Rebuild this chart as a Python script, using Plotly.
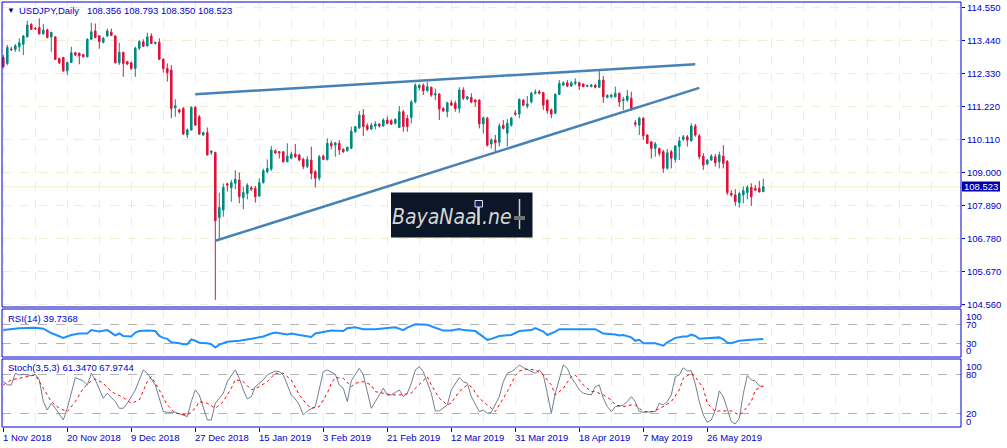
import plotly.graph_objects as go

W, H = 1007, 448

# ---------------- data ----------------
open_ = [112.86,112.66,113.14,113.13,113.22,113.30,113.55,113.97,113.84,113.86,
113.65,113.78,113.55,113.55,112.82,112.86,112.41,112.69,113.02,113.00,
112.96,112.88,113.47,113.75,113.59,113.37,113.58,113.71,113.58,112.68,
113.03,112.72,112.68,112.49,113.17,113.39,113.25,113.58,113.33,113.37,
112.80,112.49,112.44,111.17,111.10,111.15,110.26,110.43,111.19,110.87,
110.26,110.34,109.67,109.67,107.49,107.74,108.62,108.49,108.64,108.75,
108.16,108.30,108.49,108.47,108.21,108.66,109.03,109.12,109.73,109.70,
109.70,109.36,109.48,109.62,109.59,109.44,109.20,109.42,109.03,108.81,
109.55,109.44,109.98,109.92,109.98,109.78,109.73,109.81,110.37,110.50,
110.93,110.57,110.46,110.56,110.62,110.56,110.76,110.74,110.65,110.51,
111.04,110.81,110.85,111.37,111.84,111.93,111.74,111.86,111.60,111.63,
111.15,111.04,111.34,111.32,111.15,111.77,111.47,111.52,111.43,111.43,
110.63,110.82,109.96,110.09,110.01,110.59,110.32,110.59,111.00,110.96,
111.43,111.23,111.37,111.66,111.71,111.68,111.43,111.10,110.99,111.62,
111.93,112.01,111.90,111.99,112.01,111.97,111.89,111.88,111.93,111.86,
112.10,111.52,111.54,111.54,111.66,111.41,111.43,111.49,110.67,110.59,
110.82,110.26,110.03,109.81,109.81,109.70,109.14,109.70,109.44,109.87,
110.11,110.20,110.07,110.56,110.23,109.55,109.29,109.42,109.53,109.36,
109.55,109.37,108.30,108.25,107.99,108.25,108.33,108.50,108.47,108.47,
108.356]

high = [112.94,113.28,113.22,113.31,113.50,113.61,114.09,114.01,113.89,114.17,
113.98,113.83,113.72,113.58,112.86,112.88,112.72,113.22,113.05,113.03,
112.97,113.50,114.02,114.00,113.61,113.55,113.83,113.83,113.61,113.35,
113.05,112.74,112.72,113.22,113.44,113.47,113.69,113.67,113.39,113.50,
112.83,112.66,112.60,111.46,111.15,111.19,110.48,111.21,111.23,110.93,
110.37,110.51,109.74,109.70,108.32,108.63,108.66,108.75,109.08,109.00,
108.53,108.64,108.55,108.55,108.81,109.13,109.44,109.89,109.77,109.72,
109.72,109.98,109.70,109.96,109.62,109.50,109.55,109.87,109.08,109.59,
109.60,110.15,110.07,110.03,110.09,109.81,109.87,110.54,110.56,111.06,
111.13,110.65,110.67,110.72,110.66,110.82,110.88,110.79,110.82,111.23,
111.10,110.93,111.43,111.99,111.97,111.99,112.05,111.88,111.82,111.66,
111.19,111.37,111.43,111.41,111.86,111.86,111.57,111.66,111.47,111.46,
110.87,110.87,110.15,110.26,110.65,110.76,110.79,110.87,111.10,111.49,
111.46,111.57,111.71,111.79,111.77,111.71,111.45,111.15,111.66,112.10,
112.06,112.10,112.06,112.16,112.05,111.99,111.95,111.97,111.97,112.44,
112.24,111.62,111.63,111.88,111.68,111.54,111.77,111.71,110.76,110.87,
110.85,110.28,110.06,110.03,109.83,109.76,109.79,109.76,109.92,110.20,
110.26,110.26,110.65,110.63,110.29,109.65,109.45,109.62,109.62,109.70,
109.92,109.42,108.41,108.44,108.36,108.53,108.58,108.64,108.58,108.72,
108.793]

low = [112.49,112.60,113.08,113.05,113.05,112.94,113.53,113.78,113.78,113.63,
113.63,113.50,113.05,112.77,112.64,112.38,112.27,112.67,112.91,112.63,
112.87,112.86,113.44,113.50,113.15,113.33,113.55,113.58,112.66,112.61,
112.21,112.60,112.44,112.21,113.11,113.22,113.22,113.31,113.30,112.77,
112.35,112.05,110.82,110.87,110.98,110.26,110.15,110.40,110.56,110.26,
110.22,109.57,109.59,104.73,106.74,107.52,108.36,108.02,108.44,107.97,
107.77,108.10,108.38,107.99,108.19,108.63,108.97,109.05,109.62,109.47,
109.33,109.35,109.44,109.49,109.38,109.12,109.15,108.77,108.50,108.73,
109.41,109.40,109.78,109.53,109.59,109.66,109.70,109.79,110.33,110.46,
110.23,110.40,110.42,110.45,110.51,110.54,110.61,110.59,110.61,110.49,
110.37,110.37,110.65,111.32,111.75,111.60,111.72,111.54,111.43,110.76,
111.03,110.85,111.23,111.04,111.00,111.43,111.43,111.32,111.21,110.48,
110.31,109.87,109.81,109.70,109.87,110.45,109.87,110.54,110.90,110.82,
111.23,111.15,111.32,111.62,111.62,111.10,110.98,110.82,110.96,111.60,
111.91,111.86,111.88,111.93,111.77,111.86,111.86,111.86,111.82,111.84,
111.34,111.49,111.51,111.52,111.21,111.10,111.37,111.07,110.54,110.26,
110.09,109.96,109.47,109.53,109.55,108.99,109.10,109.14,109.33,109.42,
110.06,109.87,110.03,110.20,109.44,109.09,109.25,109.39,109.20,109.14,
109.14,108.25,108.19,107.88,107.83,107.97,108.10,107.88,108.38,108.33,
108.350]

close = [112.55,113.20,113.12,113.25,113.35,113.58,113.95,113.80,113.82,113.65,
113.78,113.53,113.70,112.80,112.68,112.41,112.69,113.02,112.94,112.91,
112.88,113.47,113.72,113.53,113.39,113.50,113.75,113.60,112.68,113.03,
112.66,112.64,112.49,113.17,113.39,113.24,113.55,113.33,113.37,112.80,
112.49,112.35,111.15,111.24,111.03,110.29,110.43,111.19,110.59,110.29,
110.34,109.59,109.72,107.38,107.83,108.50,108.58,108.66,108.77,108.19,
108.33,108.58,108.44,108.19,108.66,109.06,109.14,109.76,109.66,109.66,
109.36,109.55,109.62,109.53,109.42,109.20,109.44,108.97,108.81,109.53,
109.44,109.98,109.90,110.00,109.76,109.70,109.85,110.39,110.54,110.93,
110.54,110.45,110.59,110.63,110.56,110.76,110.65,110.63,110.78,111.04,
110.54,110.54,111.37,111.93,111.93,111.74,111.88,111.60,111.64,111.13,
111.07,111.34,111.26,111.15,111.77,111.49,111.54,111.37,111.37,110.63,
110.84,109.92,110.09,110.00,110.56,110.48,110.65,110.82,110.96,111.45,
111.26,111.30,111.66,111.70,111.66,111.26,111.07,110.96,111.62,111.99,
112.01,111.90,112.01,112.04,111.90,111.88,111.92,111.93,111.86,112.10,
111.54,111.59,111.60,111.66,111.37,111.45,111.57,111.12,110.62,110.82,
110.23,109.98,109.81,109.96,109.64,109.14,109.66,109.48,109.89,110.06,
110.20,110.09,110.56,110.26,109.53,109.25,109.42,109.55,109.33,109.59,
109.31,108.33,108.25,108.02,108.30,108.39,108.50,108.19,108.41,108.35,
108.523]

bar_index = list(range(len(close)))

# trend lines (bar index, price)
upper_trend_x = [48, 173]
upper_trend_y = [111.63, 112.63]
lower_trend_x = [53, 174]
lower_trend_y = [106.71, 111.84]

# RSI(14) line (bar index, value)
rsi_idx = [0,4,8,10,12,15,17,19,21,22,24,26,28,29,30,32,33,34,36,38,39,40,41,42,44,45,46,47,48,49,
           51,52,53,54,56,59,62,65,67,68,71,72,74,77,78,82,85,86,88,90,93,96,98,100,101,103,106,108,110,112,
           114,115,118,120,121,122,124,127,129,132,133,135,136,138,139,142,145,148,150,152,153,154,155,157,158,159,160,163,165,166,
           168,170,171,172,173,174,177,179,180,181,182,184,187,189,190]
rsi_val = [58,62,63,61,52,42,48,51,51,58,55,58,47,51,46,45,53,56,57,56,46,42,40,33,31,29,29,39,36,32,
           31,29,22,28,34,36,40,45,51,53,49,51,48,44,51,57,56,62,64,60,60,62,64,58,63,70,69,63,57,57,
           60,58,56,44,38,40,46,48,56,58,62,55,48,55,60,60,60,60,51,50,49,47,48,43,36,38,31,31,26,33,
           42,45,45,49,46,40,41,43,39,32,31,36,38,40,39.74]

# Stochastic(3,5,3) main line
stk_idx = [0,1,2,3,4,5,7,8,9,10,11,12,13,15,16,18,20,21,22,23,25,26,28,29,30,31,33,35,36,38,
           40,41,43,45,46,47,48,49,51,52,53,55,56,58,59,60,61,62,63,65,66,68,69,70,72,73,74,75,76,78,
           80,81,83,84,85,86,87,89,90,91,92,93,95,96,97,99,100,101,102,103,104,105,107,108,109,111,112,114,115,116,
           117,119,120,121,122,124,125,126,127,128,129,130,132,133,134,135,136,137,138,140,141,142,143,144,145,147,148,149,150,151,
           152,153,154,155,156,157,158,159,160,162,163,164,165,166,167,168,169,170,171,172,173,174,175,176,177,178,179,180,181,182,
           183,184,185,186,187,188,189,190]
stk_val = [68.7,63.6,63.6,81.5,79,80,78,80,71.3,38,25,35.4,27.7,9.7,27.7,74.9,69.7,63.6,81.5,71.3,43,50.8,38,27.7,27.7,35.4,55.9,86.7,81.5,63.6,
           22.6,21.5,21.5,17.4,14.9,38,55.9,48.2,9.7,9.7,35.4,50.8,68.7,86.7,73.8,55.9,42,45.6,61,71.3,79,85.1,84.1,79,48.2,42,32.8,17.4,23.6,30.3,
           84.1,86.7,80,63.6,58.5,38,70,89.2,79,53.3,27.7,38,58.5,48.2,48.2,55.9,45.6,50.8,66.2,86.7,91.8,84.1,50.8,23.6,23.6,32.8,55.9,74.9,68.7,66.2,
           45.6,22.6,25,20,21.5,45.6,68.7,81.5,84.1,88.2,94.4,90.3,85.1,81.5,86.7,79,50.8,20,50.8,94.4,89.2,75,66.2,55.9,50.8,48.2,61,63.6,43,30.3,
           22.6,30.3,31,32.8,38,45.6,38,22.6,21.5,21.5,22.6,35.4,32.8,38,48.2,76.4,79,90,85.1,85.6,65,38,17.4,6.2,9.7,25,54.4,45.6,27.7,7.2,
           3.6,12.3,50,78,71.3,69.7,62,61.35]

# Stochastic signal line
std_idx = [0,2,4,7,8,10,12,14,16,18,20,22,23,25,27,30,32,34,36,37,39,41,43,46,48,49,51,53,55,57,
           58,60,62,64,66,68,70,72,74,76,77,79,81,82,83,85,87,88,90,92,93,95,97,99,102,103,105,106,107,109,
           111,112,114,116,117,119,122,123,124,126,128,129,131,133,135,137,138,140,142,143,145,147,148,150,152,153,155,157,158,160,
           162,163,164,165,167,169,170,172,173,175,176,178,179,180,182,184,185,187,188,190]
std_val = [63.6,71.3,73.8,78,79,58.5,38,27.7,22.6,38,58.5,69.7,72.8,66.2,53.3,44.1,35.4,40.5,68.7,76.4,55.9,32.8,20,17.4,27.7,38,35.4,27.7,38,58.5,
           72,68.7,55.9,61,68.7,81.5,81.5,71.3,48.2,32.8,27.7,30.3,50.8,66.2,75,73.8,61,66.2,68.7,63.6,53.3,50.8,48.2,48.2,50.8,58.5,71.3,76.4,63.6,43,
           32.8,36,53.3,63.6,61,43,27.7,22.6,32.8,53.3,78,85.1,87.7,86.7,79,63.6,48.2,58.5,76.4,79,63.6,53.3,53.3,48.2,40.5,32.8,30.3,32.8,32.8,22.6,
           22.6,23.6,27.7,30.3,38,55.9,73.8,81.5,76.4,58.5,35.4,22.6,23.6,23.6,23.6,17.4,22.6,38,55.9,62]

price_ticks = [114.55, 113.44, 112.33, 111.22, 110.11, 109.00, 107.89, 106.78, 105.67, 104.56]
date_tick_idx = [0, 16, 32, 48, 64, 80, 96, 112, 128, 144, 160, 176]
date_labels = ["1 Nov 2018", "20 Nov 2018", "9 Dec 2018", "27 Dec 2018", "15 Jan 2019", "3 Feb 2019",
               "21 Feb 2019", "12 Mar 2019", "31 Mar 2019", "18 Apr 2019", "7 May 2019", "26 May 2019"]
rsi_levels = [100, 70, 30, 0]
stoch_levels = [100, 80, 20, 0]
last_price = 108.523
header_values = "108.356 108.793 108.350 108.523"
rsi_label = "RSI(14) 39.7368"
stoch_label = "Stoch(3,5,3) 61.3470 67.9744"

# ---------------- styling ----------------
BLUE = "#0000CD"
BULL = "#008B80"
BEAR = "#DC143C"
GRID = "#EEEED2"
FONT = "Liberation Sans, Arial, sans-serif"
FS = 9.5
WM_FONT = "DejaVu Sans Condensed, Liberation Sans Narrow, Liberation Sans, sans-serif"

def px(x):
    return x / W

def py(y):
    return 1 - y / H

XR = [-0.325, 239.425]
YR = [104.49, 114.72]

fig = go.Figure()
fig.add_trace(go.Candlestick(
    x=bar_index, open=open_, high=high, low=low, close=close,
    increasing=dict(line=dict(color=BULL, width=1), fillcolor=BULL),
    decreasing=dict(line=dict(color=BEAR, width=1), fillcolor=BEAR),
    whiskerwidth=0, xaxis="x", yaxis="y", showlegend=False, hoverinfo="skip"))

for tx, ty in ((upper_trend_x, upper_trend_y), (lower_trend_x, lower_trend_y)):
    fig.add_trace(go.Scatter(x=tx, y=ty, mode="lines", line=dict(color="#4682B4", width=2.5),
                             xaxis="x", yaxis="y", showlegend=False, hoverinfo="skip"))

fig.add_trace(go.Scatter(x=rsi_idx, y=rsi_val, mode="lines", line=dict(color="#1E90FF", width=2),
                         xaxis="x2", yaxis="y2", showlegend=False, hoverinfo="skip"))
fig.add_trace(go.Scatter(x=stk_idx, y=stk_val, mode="lines", line=dict(color="#708090", width=1),
                         xaxis="x3", yaxis="y3", showlegend=False, hoverinfo="skip"))
fig.add_trace(go.Scatter(x=std_idx, y=std_val, mode="lines", line=dict(color="#FF0000", width=1, dash="dot"),
                         xaxis="x3", yaxis="y3", showlegend=False, hoverinfo="skip"))

grid8 = list(range(0, 240, 8))
xdom = [px(2), px(961)]

common_x = dict(domain=xdom, range=XR, showticklabels=False, showgrid=True, gridcolor=GRID,
                griddash="dash", gridwidth=1, zeroline=False, showline=False, fixedrange=True)

fig.update_layout(
    width=W, height=H, margin=dict(l=0, r=0, t=0, b=0),
    paper_bgcolor="white", plot_bgcolor="white", showlegend=False, hovermode=False,
    boxgap=0.45,
    font=dict(family=FONT, size=FS, color=BLUE),
    xaxis=dict(common_x, anchor="y", tickvals=grid8, ticks="", rangeslider=dict(visible=False)),
    xaxis2=dict(common_x, anchor="y2", tickvals=grid8, ticks=""),
    xaxis3=dict(common_x, anchor="y3", tickvals=date_tick_idx, ticks="outside", ticklen=4,
                tickcolor=BLUE, tickwidth=1,
                minor=dict(tickvals=grid8, showgrid=True, gridcolor=GRID, griddash="dash", ticks="")),
    yaxis=dict(domain=[py(307), py(2)], range=YR, anchor="x", side="right",
               tickvals=price_ticks, showticklabels=False,
               ticks="outside", ticklen=3, tickcolor=BLUE,
               showgrid=True, gridcolor=GRID, griddash="dash", zeroline=False, showline=False, fixedrange=True),
    yaxis2=dict(domain=[py(357), py(309)], range=[2.6, 101.5], anchor="x2", side="right",
                tickvals=[30, 70], showticklabels=False, ticks="",
                showgrid=True, gridcolor="#B4B4B4", griddash="dash", zeroline=False, showline=False, fixedrange=True),
    yaxis3=dict(domain=[py(427), py(359)], range=[-1.1, 103.5], anchor="x3", side="right",
                tickvals=[20, 80], showticklabels=False, ticks="",
                showgrid=True, gridcolor="#B4B4B4", griddash="dash", zeroline=False, showline=False, fixedrange=True),
)

shapes = []
# current price line
shapes.append(dict(type="line", xref="x domain", yref="y", x0=0, x1=1, y0=last_price, y1=last_price,
                   line=dict(color="#F0EFC4", width=1), layer="below"))
# pane frames
for (y0, y1) in ((2, 307), (309, 357), (359, 427)):
    shapes.append(dict(type="rect", xref="paper", yref="paper", x0=px(2), x1=px(961), y0=py(y1), y1=py(y0),
                       line=dict(color=BLUE, width=1), fillcolor="rgba(0,0,0,0)", layer="above"))
# watermark box and its little glyphs
shapes.append(dict(type="rect", xref="paper", yref="paper", x0=px(391), x1=px(532.5), y0=py(237.5), y1=py(192.5),
                   line=dict(width=0), fillcolor="#0B1729", layer="above"))
shapes.append(dict(type="line", xref="paper", yref="paper", x0=px(478.5), x1=px(478.5), y0=py(225), y1=py(206),
                   line=dict(color="#D8D8D8", width=2.5), layer="above"))
shapes.append(dict(type="rect", xref="paper", yref="paper", x0=px(475), x1=px(482.5), y0=py(207), y1=py(200.5),
                   line=dict(color="#E0E0E0", width=1), fillcolor="#1A1A70", layer="above"))
shapes.append(dict(type="line", xref="paper", yref="paper", x0=px(519.5), x1=px(519.5), y0=py(229), y1=py(199),
                   line=dict(color="#D0D0D0", width=1.5), layer="above"))
shapes.append(dict(type="rect", xref="paper", yref="paper", x0=px(514), x1=px(525), y0=py(220), y1=py(216),
                   line=dict(width=0), fillcolor="#707070", layer="above"))
# last price label box
shapes.append(dict(type="rect", xref="paper", yref="paper", x0=px(962), x1=px(1000), y0=py(191.5), y1=py(181.5),
                   line=dict(width=0), fillcolor="#0000B0", layer="above"))
fig.update_layout(shapes=shapes)

ann = []
def txt(x, y, s, size=FS, color=BLUE, xanchor="left", family=FONT, yref="paper"):
    ann.append(dict(x=px(x), y=(py(y) if yref == "paper" else y), xref="paper", yref=yref, text=s,
                    showarrow=False, xanchor=xanchor, yanchor="middle", borderpad=0,
                    font=dict(family=family, size=size, color=color)))

txt(5.5, 10.5, "▼", size=8, color="#000080")
txt(18, 11, "USDJPY,Daily")
txt(85.5, 11, header_values)
txt(6.5, 318.5, rsi_label)
txt(6.5, 367.5, stoch_label)

# price scale labels
for v in price_ticks:
    txt(965.5, v, f"{v:.3f}", yref="y")
txt(963, last_price, f"{last_price:.3f}", color="white", yref="y")

# indicator scale labels (overlapping, as in the terminal)
for lab, yy in zip(rsi_levels, (316.5, 324.5, 343.5, 350.5)):
    txt(964.5, yy, str(lab))
for lab, yy in zip(stoch_levels, (366, 374.5, 413.5, 421)):
    txt(964.5, yy, str(lab))

# watermark text
txt(391, 216.5, "<i>BayaNaa</i>", size=21, color="#D6D6D6", family=WM_FONT)
txt(481, 216.5, "<i>.ne</i>", size=21, color="#D6D6D6", family=WM_FONT)

for i, lab in zip(date_tick_idx, date_labels):
    ann.append(dict(x=i, y=py(437), xref="x3", yref="paper", text=lab, showarrow=False,
                    xanchor="left", yanchor="middle", xshift=-1.5, borderpad=0,
                    font=dict(family=FONT, size=FS, color=BLUE)))

fig.update_layout(annotations=ann)
fig.write_html("out.html", config={"displayModeBar": False, "staticPlot": True},
               post_script="document.body.style.margin='0';document.body.style.overflow='hidden';")
